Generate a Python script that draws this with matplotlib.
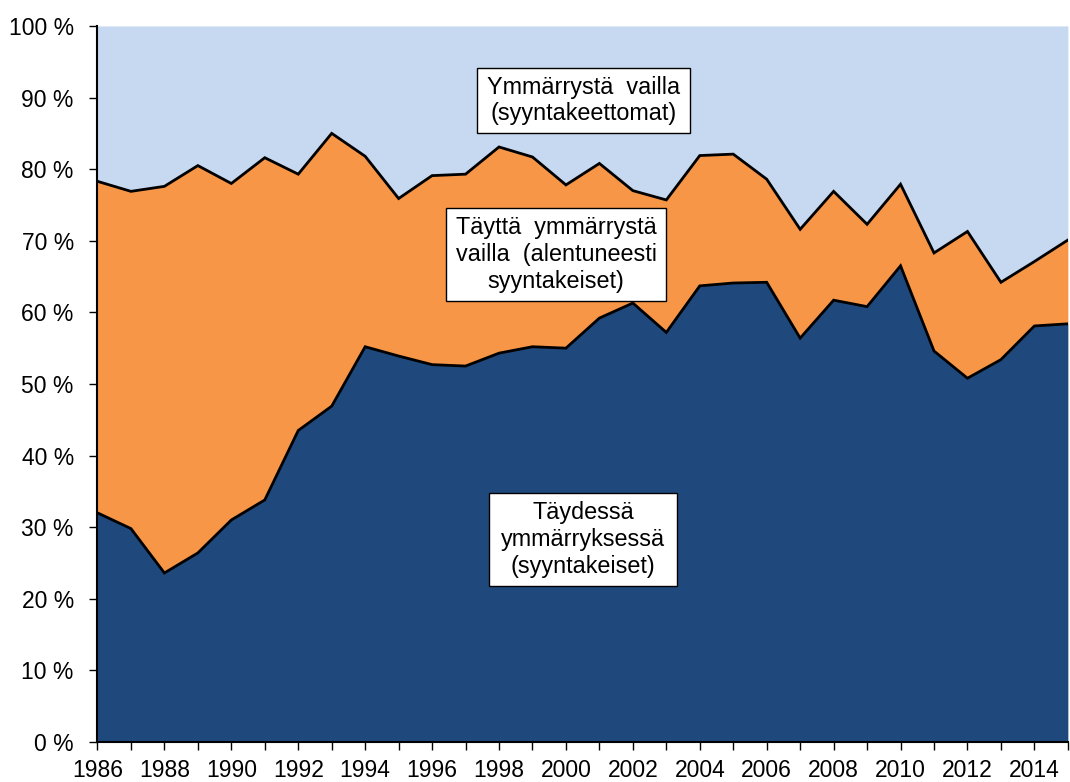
import matplotlib
matplotlib.use("Agg")
import matplotlib.pyplot as plt
from matplotlib.patches import Rectangle
import numpy as np

years = list(range(1986, 2016))
# share (%) with full understanding (syyntakeiset)
full = [32.0, 29.8, 23.6, 26.4, 31.0, 33.8, 43.5, 46.9, 55.2, 53.9,
        52.7, 52.5, 54.3, 55.2, 55.0, 59.2, 61.3, 57.2, 63.7, 64.1,
        64.2, 56.4, 61.7, 60.8, 66.5, 54.6, 50.8, 53.4, 58.1, 58.4]
# cumulative top of the "partially lacking understanding" layer
cum_partial = [78.3, 76.9, 77.6, 80.5, 78.0, 81.6, 79.3, 85.0, 81.8, 75.9,
               79.1, 79.3, 83.1, 81.7, 77.8, 80.8, 77.0, 75.7, 81.9, 82.1,
               78.6, 71.6, 76.9, 72.3, 77.9, 68.3, 71.3, 64.2, 67.1, 70.1]
partial = [c - f for c, f in zip(cum_partial, full)]
none_ = [100 - c for c in cum_partial]

labels = ["Täydessä\nymmärryksessä\n(syyntakeiset)",
          "Täyttä  ymmärrystä\nvailla  (alentuneesti\nsyyntakeiset)",
          "Ymmärrystä  vailla\n(syyntakeettomat)"]
colors = ["#1F497D", "#F79646", "#C6D9F1"]

plt.rcParams['font.family'] = ['Liberation Sans', 'DejaVu Sans']

fig = plt.figure(figsize=(10.7, 7.82), dpi=100)
ax = fig.add_axes([0.0911, 0.0512, 0.9069, 0.9156])

x = np.array(years)
s1 = np.array(full)
s2 = s1 + np.array(partial)
s3 = s2 + np.array(none_)
ax.fill_between(x, 0, s1, color=colors[0], linewidth=0)
ax.fill_between(x, s1, s2, color=colors[1], linewidth=0)
ax.fill_between(x, s2, s3, color=colors[2], linewidth=0)
ax.plot(x, s1, color="black", lw=2, solid_joinstyle="miter")
ax.plot(x, s2, color="black", lw=2, solid_joinstyle="miter")

ax.set_xlim(1986, 2015)
ax.set_ylim(0, 100)
ax.set_xticks(years)
ax.set_xticklabels([str(y) if (y - 1986) % 2 == 0 else "" for y in years], fontsize=16.5)
ax.set_yticks(range(0, 101, 10))
ax.set_yticklabels([f"{v} %" for v in range(0, 101, 10)], fontsize=16.5)
ax.tick_params(axis="both", direction="out", length=6, width=1, color="black")
ax.tick_params(axis="x", pad=6)
ax.tick_params(axis="y", pad=11)
for sp in ["top", "right"]:
    ax.spines[sp].set_visible(False)
for sp in ["left", "bottom"]:
    ax.spines[sp].set_linewidth(1.5)

# label boxes: (x0, x1, y0, y1) in data units
boxes = [(1997.69, 2003.33, 21.79, 34.78),
         (1996.43, 2002.99, 61.59, 74.58),
         (1997.33, 2003.72, 85.06, 94.13)]
for (x0, x1, y0, y1), lab in zip(boxes, labels):
    ax.add_patch(Rectangle((x0, y0), x1 - x0, y1 - y0, facecolor="white",
                           edgecolor="black", linewidth=1, zorder=5))
    ax.text((x0 + x1) / 2, (y0 + y1) / 2, lab, ha="center", va="center",
            fontsize=16.8, multialignment="center", linespacing=1.2, zorder=6)

fig.savefig("out.png", dpi=100)
